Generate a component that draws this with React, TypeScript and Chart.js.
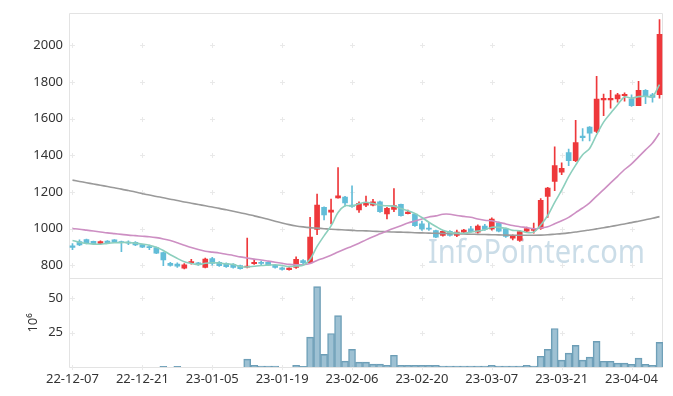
import React, { useEffect, useRef } from 'react';
import { Chart, registerables } from 'chart.js';

Chart.register(...registerables);

// ---- data ----
const dates = [
  '22-12-07','22-12-08','22-12-09','22-12-12','22-12-13','22-12-14','22-12-15','22-12-16','22-12-19','22-12-20',
  '22-12-21','22-12-22','22-12-23','22-12-26','22-12-27','22-12-28','22-12-29','23-01-02','23-01-03','23-01-04',
  '23-01-05','23-01-06','23-01-09','23-01-10','23-01-11','23-01-12','23-01-13','23-01-16','23-01-17','23-01-18',
  '23-01-19','23-01-20','23-01-25','23-01-26','23-01-27','23-01-30','23-01-31','23-02-01','23-02-02','23-02-03',
  '23-02-06','23-02-07','23-02-08','23-02-09','23-02-10','23-02-13','23-02-14','23-02-15','23-02-16','23-02-17',
  '23-02-20','23-02-21','23-02-22','23-02-23','23-02-24','23-02-27','23-02-28','23-03-02','23-03-03','23-03-06',
  '23-03-07','23-03-08','23-03-09','23-03-10','23-03-13','23-03-14','23-03-15','23-03-16','23-03-17','23-03-20',
  '23-03-21','23-03-22','23-03-23','23-03-24','23-03-27','23-03-28','23-03-29','23-03-30','23-03-31','23-04-03',
  '23-04-04','23-04-05','23-04-06','23-04-07','23-04-10',
];

const opens = [
  905,928,940,930,918,931,938,929,925,924,
  912,901,896,869,810,806,784,814,812,788,
  836,816,809,804,797,789,808,815,815,799,
  786,775,788,825,814,995,1116,1089,1167,1172,
  1128,1101,1128,1128,1146,1079,1104,1132,1081,1079,
  1025,1002,989,962,985,962,980,998,980,1013,
  998,1031,998,947,935,985,990,1000,1175,1257,
  1308,1415,1370,1505,1554,1530,1702,1702,1707,1725,
  1707,1671,1754,1730,1730,
];

const highs = [
  918,938,942,932,933,934,940,931,933,928,
  914,910,898,871,815,812,808,832,815,838,
  842,820,812,808,800,948,832,822,818,802,
  789,787,845,830,1061,1188,1118,1161,1332,1175,
  1233,1146,1177,1159,1150,1116,1218,1134,1100,1081,
  1040,1030,991,990,988,992,996,1012,1020,1023,
  1058,1035,1002,966,988,1008,1030,1163,1225,1446,
  1359,1433,1590,1545,1556,1830,1734,1754,1738,1740,
  1730,1803,1758,1738,2140,
];

const lows = [
  884,906,916,914,913,920,922,874,912,906,
  896,884,862,797,795,787,780,805,798,785,
  800,793,788,783,778,785,804,798,797,784,
  773,772,782,808,810,966,1047,1025,1165,1122,
  1115,1088,1119,1123,1088,1053,1092,1068,1079,1012,
  990,990,950,958,958,956,975,978,975,990,
  991,982,952,938,930,980,975,995,1060,1206,
  1294,1343,1365,1478,1478,1523,1616,1657,1690,1695,
  1667,1671,1682,1690,1712,
];

const closes = [
  897,910,919,917,928,922,926,922,920,911,
  898,895,866,829,799,795,802,818,803,833,
  810,797,792,787,781,794,816,810,800,788,
  776,784,832,813,953,1128,1074,1100,1179,1140,
  1121,1137,1137,1146,1092,1110,1125,1070,1090,1016,
  998,996,953,985,962,980,992,983,1013,995,
  1052,986,957,962,983,1000,998,1154,1220,1344,
  1329,1370,1469,1496,1520,1707,1711,1711,1730,1732,
  1671,1754,1725,1716,2060,
];

// volume, millions of shares
const volumes = [
  0,0,0,0,0,0,0,0,0,0,
  0,0,0,0.5,0,0.5,0,0,0,0,
  0,0,0,0,0,5.7,1.3,0.7,0.7,0.7,
  0,0,1.3,0.5,21.6,58.2,9.1,24.3,37.2,4.3,
  12.8,3.5,3.5,2.1,2.1,1.3,8.5,1.3,1.3,1.3,
  1.3,1.3,1.3,0.7,0.7,0.7,0.7,0.7,0.7,0.7,
  1.3,0.7,0.7,0.7,0.7,1.3,0.7,7.8,12.8,27.9,
  5.0,10.0,15.7,5.0,7.1,18.6,4.2,4.2,2.8,2.8,
  2.0,6.4,2.0,1.3,17.9,
];

const ma5 = [
  935,925,918,915,914,919,922,923,924,920,
  915,909,898,880,857,837,818,809,803,810,
  813,812,807,804,793,790,794,798,800,802,
  798,792,796,799,832,902,960,1014,1087,1124,
  1123,1135,1143,1136,1127,1124,1122,1109,1097,1082,
  1060,1034,1011,990,979,975,974,980,986,993,
  1007,1006,1001,990,988,978,980,1019,1071,1143,
  1209,1283,1346,1402,1437,1512,1581,1629,1676,1718,
  1711,1720,1722,1720,1785,
];

const ma20 = [
  1000,996,991,986,981,976,972,968,964,961,
  958,955,950,943,934,922,909,896,885,876,
  871,866,859,853,845,839,833,828,822,816,
  810,804,802,802,809,826,839,854,872,888,
  903,920,938,955,971,987,1002,1015,1030,1041,
  1052,1063,1069,1078,1078,1071,1066,1061,1052,1045,
  1042,1034,1025,1016,1010,1005,999,1003,1009,1026,
  1042,1061,1087,1112,1140,1177,1212,1249,1285,1322,
  1353,1391,1429,1467,1521,
];

const maLong = [
  1264,1257,1250,1243,1236,1229,1222,1215,1207,1199,
  1190,1183,1175,1168,1160,1153,1145,1138,1131,1124,
  1117,1110,1102,1094,1086,1078,1069,1060,1050,1040,
  1030,1021,1014,1009,1005,1002,999,996,994,992,
  990,988,987,985,984,982,981,980,979,977,
  976,975,974,973,972,971,970,969,968,967,
  966,965,964,963,963,963,963,964,966,969,
  972,976,981,986,992,998,1004,1011,1018,1025,
  1032,1040,1048,1056,1065,
];

const priceTicks = [800, 1000, 1200, 1400, 1600, 1800, 2000];
const volumeTicks = [25, 50];
const labelStep = 10;
const volumeTitle = '10⁶';
const watermark = 'InfoPointer.com';

const RED = '#ee383b';
const BLUE = '#62bdd8';
const FONT = "'Noto Sans', 'DejaVu Sans', sans-serif";

export default function App() {
  const ref = useRef<HTMLCanvasElement | null>(null);

  useEffect(() => {
    const canvas = ref.current;
    if (!canvas) return;
    const colors = closes.map((c, i) => (c >= opens[i] ? RED : BLUE));

    const decor = {
      id: 'decor',
      beforeDatasetsDraw(chart: any) {
        const { ctx, chartArea: a, scales } = chart;
        const sx = scales.x, sy = scales.y, sv = scales.yv;
        ctx.save();
        // watermark
        ctx.font = `33px ${FONT}`;
        ctx.fillStyle = 'rgba(168,198,216,0.6)';
        ctx.textBaseline = 'alphabetic';
        ctx.textAlign = 'left';
        const w = ctx.measureText(watermark).width;
        ctx.translate(428, 263);
        ctx.scale(217 / w, 1);
        ctx.fillText(watermark, 0, 0);
        ctx.restore();

        ctx.save();
        ctx.lineWidth = 1;
        // frame
        ctx.strokeStyle = '#e3e3e3';
        const L = Math.floor(a.left) + 0.5;
        const R = Math.ceil(a.right) - 0.5;
        const T = Math.floor(a.top) + 0.5;
        const B = Math.floor(a.bottom) + 0.5;
        const S = Math.floor(sy.bottom) + 0.5;
        ctx.beginPath();
        ctx.moveTo(L, T); ctx.lineTo(R, T); ctx.lineTo(R, B); ctx.lineTo(L, B); ctx.closePath();
        ctx.moveTo(L, S); ctx.lineTo(R, S);
        ctx.stroke();
        // grid crosses
        ctx.strokeStyle = '#e9e9e9';
        ctx.beginPath();
        const ys: number[] = [
          ...priceTicks.map((v) => sy.getPixelForValue(v)),
          ...volumeTicks.map((v) => sv.getPixelForValue(v)),
        ];
        for (let i = 0; i < dates.length; i += labelStep) {
          const px = Math.round(sx.getPixelForValue(i)) + 0.5;
          for (const yy of ys) {
            const py = Math.round(yy) + 0.5;
            ctx.moveTo(px - 2.5, py); ctx.lineTo(px + 2.5, py);
            ctx.moveTo(px, py - 2.5); ctx.lineTo(px, py + 2.5);
          }
          ctx.moveTo(px, B - 2.5); ctx.lineTo(px, B + 2.5);
        }
        ctx.stroke();
        ctx.restore();
      },
    };

    const tickFont = { family: FONT, size: 13 };
    const plain = (v: any) => String(v);

    const chart = new Chart(canvas, {
      type: 'bar',
      data: {
        labels: dates,
        datasets: [
          { type: 'line', label: 'MA5', data: ma5, yAxisID: 'y', borderColor: '#8ccfbd', borderWidth: 1.6, pointRadius: 0, tension: 0.3, order: 0 } as any,
          { type: 'line', label: 'MA20', data: ma20, yAxisID: 'y', borderColor: '#cd8fc3', borderWidth: 1.6, pointRadius: 0, tension: 0.3, order: 1 } as any,
          { type: 'line', label: 'MA', data: maLong, yAxisID: 'y', borderColor: '#9a9a9a', borderWidth: 1.6, pointRadius: 0, tension: 0.3, order: 2 } as any,
          { type: 'bar', label: 'body', data: opens.map((o, i) => [o, closes[i]]), yAxisID: 'y', backgroundColor: colors, barThickness: 5, minBarLength: 1, grouped: false, order: 3 } as any,
          { type: 'bar', label: 'wick', data: lows.map((l, i) => [l, highs[i]]), yAxisID: 'y', backgroundColor: colors, barThickness: 1, grouped: false, order: 4 } as any,
          { type: 'bar', label: 'volume', data: volumes, yAxisID: 'yv', backgroundColor: 'rgba(125,172,196,0.75)', borderColor: '#6c9db5', borderWidth: 1, barPercentage: 1, categoryPercentage: 1, grouped: false, order: 5 } as any,
        ],
      },
      options: {
        responsive: false,
        animation: false,
        layout: { padding: { top: 10, right: 10, left: 0, bottom: 0 } },
        plugins: { legend: { display: false }, tooltip: { enabled: false } },
        scales: {
          x: {
            type: 'category',
            offset: true,
            grid: { display: false, drawTicks: false },
            border: { display: false },
            ticks: {
              autoSkip: false, maxRotation: 0, minRotation: 0, padding: 4, color: '#333', font: tickFont,
              callback: (_v: any, i: number) => (i % labelStep === 0 ? dates[i] : ''),
            },
            afterFit: (s: any) => { s.height = 29; },
          },
          yv: {
            type: 'linear', position: 'left', stack: 'main', stackWeight: 1,
            min: 0, max: 64,
            grid: { display: false, drawTicks: false },
            border: { display: false },
            ticks: { padding: 6, color: '#333', font: tickFont, callback: plain },
            afterBuildTicks: (s: any) => { s.ticks = volumeTicks.map((v) => ({ value: v })); },
            afterFit: (s: any) => { s.width = 69; },
            title: { display: true, text: volumeTitle, color: '#333', font: tickFont, padding: { top: 25, bottom: 0 } },
          },
          y: {
            type: 'linear', position: 'left', stack: 'main', stackWeight: 3,
            min: 726, max: 2172,
            grid: { display: false, drawTicks: false },
            border: { display: false },
            ticks: { padding: 6, color: '#333', font: tickFont, callback: plain },
            afterBuildTicks: (s: any) => { s.ticks = priceTicks.map((v) => ({ value: v })); },
            afterFit: (s: any) => { s.width = 69; },
          },
        },
      } as any,
      plugins: [decor],
    });
    return () => chart.destroy();
  }, []);

  return (
    <div style={{ position: 'fixed', left: 0, top: 0, width: 673, height: 396, background: '#fff' }}>
      <canvas ref={ref} width={673} height={396} style={{ width: 673, height: 396, display: 'block' }} />
    </div>
  );
}
